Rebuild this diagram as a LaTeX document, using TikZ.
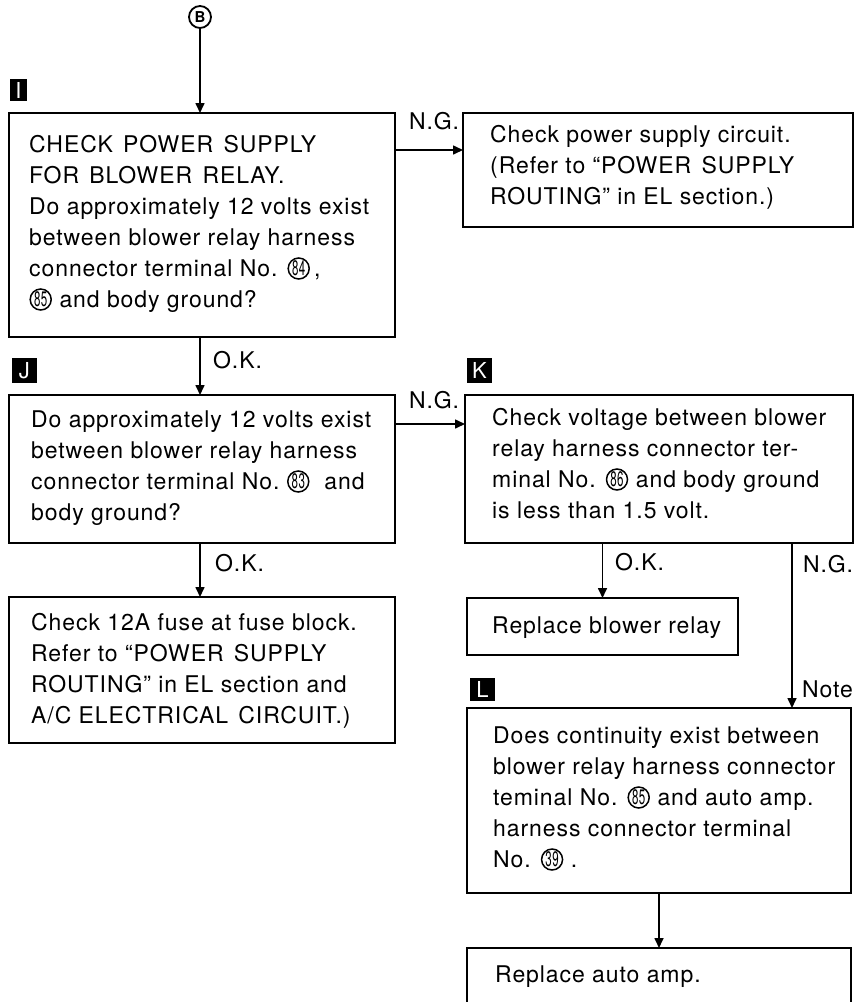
\documentclass[tikz,border=0pt]{standalone}
\usepackage{fontspec}
\usepackage{graphicx}
\usepackage{pict2e}
\setmainfont{TeX Gyre Heros}[LetterSpace=4]
\usetikzlibrary{arrows.meta}
\newcommand\cn[1]{\begingroup\setlength{\unitlength}{1pt}\begin{picture}(23,15)\linethickness{1.5pt}\put(11.5,7.5){\circle{21}}\put(11.5,7.5){\makebox(0,0){\fontsize{21}{21}\selectfont\scalebox{0.55}[1]{#1}}}\end{picture}\endgroup}
\newcommand\ml[1]{\vtop{\baselineskip=31pt\lineskiplimit=-50pt\lineskip=0pt\halign{##\hfil\cr#1\crcr}}}
\newcommand\ws{\ \hspace{3pt}}
\begin{document}
\begin{tikzpicture}[x=1pt,y=-1pt,
  box/.style={draw,line width=2pt,inner sep=0pt,outer sep=0pt,anchor=north west},
  txt/.style={inner sep=0pt,anchor=base west,font=\fontsize{23}{31}\selectfont},
  mk/.style={fill=black,text=white,inner sep=0pt,font=\fontsize{22}{22}\selectfont},
  arr/.style={line width=1.6pt,-{Triangle[length=10pt,width=9pt]}}]
\useasboundingbox (0,0) rectangle (855,1002);
\clip (0,0) rectangle (855,1002);
% start circle
\node[draw,circle,line width=1.8pt,minimum size=22pt,inner sep=0pt,font=\bfseries\fontsize{15}{15}\selectfont] (B) at (200,17) {B};
% boxes
\node[box,minimum width=386pt,minimum height=224pt] (I) at (9,113) {};
\node[box,minimum width=390pt,minimum height=114pt] (P) at (463,113) {};
\node[box,minimum width=386pt,minimum height=148pt] (J) at (9,395) {};
\node[box,minimum width=388pt,minimum height=148pt] (K) at (465,395) {};
\node[box,minimum width=386pt,minimum height=146pt] (F) at (9,597) {};
\node[box,minimum width=271pt,minimum height=57pt] (R) at (467,598) {};
\node[box,minimum width=384pt,minimum height=185pt] (L) at (467,708) {};
\node[box,minimum width=384pt,minimum height=70pt] (A) at (467,948) {};
% markers
\node[mk,minimum width=17pt,minimum height=22pt] (mI) at (18.5,90) {I};
\node[mk,minimum width=25pt,minimum height=25pt] (mJ) at (24.5,370.5) {J};
\node[mk,minimum width=25pt,minimum height=25pt] (mK) at (479.5,370.5) {K};
\node[mk,minimum width=25pt,minimum height=23pt] (mL) at (482.5,689) {L};
% texts
\node[txt] (tI) at (29,152) {\ml{CHECK\ws POWER\ws SUPPLY\cr FOR\ws BLOWER\ws RELAY.\cr Do approximately 12 volts exist\cr between blower relay harness\cr connector terminal No. \cn{84}\,,\cr \cn{85} and body ground?}};
\node[txt] (tP) at (490,142) {\ml{Check power supply circuit.\cr (Refer to “POWER\ws SUPPLY\cr ROUTING” in EL section.)}};
\node[txt] (tJ) at (31,427) {\ml{Do approximately 12 volts exist\cr between blower relay harness\cr connector terminal No.\ \cn{83}\ \ and\cr body ground?}};
\node[txt] (tK) at (492,425) {\ml{Check voltage between blower\cr relay harness connector ter-\cr minal No. \cn{86} and body ground\cr is less than 1.5 volt.}};
\node[txt] (tF) at (31,630) {\ml{Check 12A fuse at fuse block.\cr Refer to “POWER\ws SUPPLY\cr ROUTING” in EL section and\cr A/C ELECTRICAL\ws CIRCUIT.)}};
\node[txt] (tR) at (492,633) {Replace blower relay};
\node[txt] (tL) at (493,743) {\ml{Does continuity exist between\cr blower relay harness connector\cr teminal No. \cn{85} and auto amp.\cr harness connector terminal\cr No. \cn{39}\ .}};
\node[txt] (tA) at (495,982) {Replace auto amp.};
% connector labels
\node[txt] (n1) at (409,129) {N.G.};
\node[txt] (n2) at (409,408) {N.G.};
\node[txt] (o1) at (213,368) {O.K.};
\node[txt] (o2) at (215,571) {O.K.};
\node[txt] (o3) at (615,570) {O.K.};
\node[txt] (n3) at (803,572) {N.G.};
\node[txt] (nt) at (802,697) {Note};
% connectors
\coordinate (ngx) at (792,0);
\draw[arr] (B) -- (B |- I.north);
\draw[arr] ([yshift=-37pt]I.north east) -- ([yshift=-37pt]P.north west);
\draw[arr] (I.south -| B) -- (J.north -| B);
\draw[arr] ([yshift=-29pt]J.north east) -- ([yshift=-29pt]K.north west);
\draw[arr] (J.south -| B) -- (F.north -| B);
\draw[arr] (K.south -| R.north) -- (R.north);
\draw[arr] (K.south -| ngx) -- (L.north -| ngx);
\draw[arr] (L.south) -- (A.north);
\end{tikzpicture}
\end{document}
